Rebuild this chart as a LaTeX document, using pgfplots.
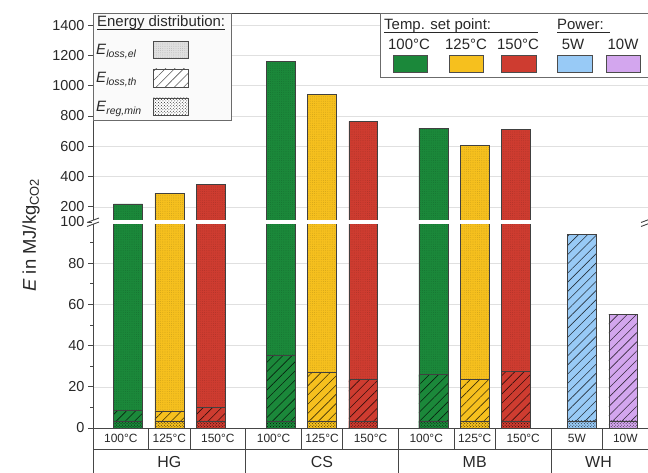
\documentclass[border=0pt]{standalone}
\usepackage{fontspec}
\setmainfont{Liberation Sans}
\usepackage{pgfplots}
\pgfplotsset{compat=1.18}
\usepackage{pgfplotstable}
\usetikzlibrary{patterns,patterns.meta}

\definecolor{cgreen}{RGB}{27,136,58}
\definecolor{cyellow}{RGB}{246,192,30}
\definecolor{cred}{RGB}{206,60,48}
\definecolor{cblue}{RGB}{152,202,246}
\definecolor{cpurple}{RGB}{211,166,238}
\definecolor{frame}{RGB}{70,70,70}
\definecolor{txt}{RGB}{40,40,40}

% x = slot position, total = total energy, th = top of thermal-loss part, reg = E_reg,min
\pgfplotstableread{
x total th reg
0 220 8.5 3.5
3.7 1160 35.5 3.5
7.4 720 26 3.5
}\tgreen
\pgfplotstableread{
x total th reg
1 290 8.3 3.5
4.7 940 27 3.5
8.4 605 23.5 3.5
}\tyellow
\pgfplotstableread{
x total th reg
2 350 10 3.5
5.7 765 23.5 3.5
9.4 710 27.5 3.5
}\tred
\pgfplotstableread{
x total th reg
11 94 94 3.5
}\tblue
\pgfplotstableread{
x total th reg
12 55 55 3.5
}\tpurple

\pgfplotsset{
  myax/.style={
    scale only axis, width=555bp, xmin=-0.85, xmax=12.6,
    axis line style={draw=frame, line width=0.9bp},
    xtick=\empty, ytick pos=left, tick align=outside,
    major tick length=5bp, minor tick length=3bp,
    tick style={draw=frame, line width=0.8bp},
    ymajorgrids, grid style={black!12, line width=0.6bp},
    tick label style={font=\fontsize{14.5}{16}\selectfont, text=txt},
    /pgf/number format/assume math mode=true,
    /pgf/number format/1000 sep={},
  },
  barbase/.style={ybar, bar width=0.7, bar shift=0pt, draw=black!75, line width=0.55bp},
}

\newcommand{\toplayer}[2]{%
  \addplot[barbase, preaction={fill=#2}, pattern={Dots[distance=2.2bp,radius=0.32bp]}, pattern color=#2!72!black] table[x=x,y=total]{#1};
}
\newcommand{\layers}[2]{%
  \toplayer{#1}{#2}
  \addplot[barbase, preaction={fill=#2}, pattern={Lines[angle=45,distance=6.5bp,line width=0.6bp]}, pattern color=#2!25!black] table[x=x,y=th]{#1};
  \addplot[barbase, preaction={fill=#2}, pattern=crosshatch dots, pattern color=#2!15!black] table[x=x,y=reg]{#1};
}

\begin{document}
\begin{tikzpicture}[x=1bp,y=1bp]

% ---------- lower axis ----------
\begin{axis}[myax, at={(93bp,0bp)}, anchor=south west, height=251bp,
  ymin=-21.84, ymax=100,
  ytick={0,20,40,60,80,100}, minor ytick={10,30,50,70,90}]
  \layers{\tgreen}{cgreen}
  \layers{\tyellow}{cyellow}
  \layers{\tred}{cred}
  \layers{\tblue}{cblue}
  \layers{\tpurple}{cpurple}
  % category table
  \draw[frame, line width=0.9bp] (axis cs:-0.85,0) -- (axis cs:12.6,0);
  \draw[frame, line width=0.8bp] (axis cs:-0.85,-10.2) -- (axis cs:12.6,-10.2);
  \draw[frame, line width=0.8bp] (axis cs:2.85,0) -- (axis cs:2.85,-21.84);
  \draw[frame, line width=0.8bp] (axis cs:6.55,0) -- (axis cs:6.55,-21.84);
  \draw[frame, line width=0.8bp] (axis cs:10.25,0) -- (axis cs:10.25,-21.84);
  \draw[frame, line width=0.8bp] (axis cs:0.5,0) -- (axis cs:0.5,-10.2);
  \draw[frame, line width=0.8bp] (axis cs:1.5,0) -- (axis cs:1.5,-10.2);
  \draw[frame, line width=0.8bp] (axis cs:4.2,0) -- (axis cs:4.2,-10.2);
  \draw[frame, line width=0.8bp] (axis cs:5.2,0) -- (axis cs:5.2,-10.2);
  \draw[frame, line width=0.8bp] (axis cs:7.9,0) -- (axis cs:7.9,-10.2);
  \draw[frame, line width=0.8bp] (axis cs:8.9,0) -- (axis cs:8.9,-10.2);
  \draw[frame, line width=0.8bp] (axis cs:11.5,0) -- (axis cs:11.5,-10.2);
  \begin{scope}[every node/.style={font=\fontsize{12}{14}\selectfont, text=txt}]
    \node at (axis cs:-0.175,-5.1) {100°C};
    \node at (axis cs:1,-5.1) {125°C};
    \node at (axis cs:2.175,-5.1) {150°C};
    \node at (axis cs:3.525,-5.1) {100°C};
    \node at (axis cs:4.7,-5.1) {125°C};
    \node at (axis cs:5.875,-5.1) {150°C};
    \node at (axis cs:7.225,-5.1) {100°C};
    \node at (axis cs:8.4,-5.1) {125°C};
    \node at (axis cs:9.575,-5.1) {150°C};
    \node at (axis cs:10.875,-5.1) {5W};
    \node at (axis cs:12.05,-5.1) {10W};
  \end{scope}
  \begin{scope}[every node/.style={font=\fontsize{16}{18}\selectfont, text=txt}]
    \node at (axis cs:1,-16.3) {HG};
    \node at (axis cs:4.7,-16.3) {CS};
    \node at (axis cs:8.4,-16.3) {MB};
    \node at (axis cs:11.4,-16.3) {WH};
  \end{scope}
\end{axis}

% ---------- upper axis ----------
\begin{axis}[myax, at={(93bp,251bp)}, anchor=south west, height=209bp,
  ymin=100, ymax=1480,
  ytick={200,400,...,1400}]
  \toplayer{\tgreen}{cgreen}
  \toplayer{\tyellow}{cyellow}
  \toplayer{\tred}{cred}
\end{axis}

% ---------- axis break ----------
\fill[white] (92,249.3) rectangle (648,252.7);
\draw[frame, line width=0.9bp] (87,246.5) -- (99,251);
\draw[frame, line width=0.9bp] (87,250.5) -- (99,255);
\draw[frame, line width=0.9bp] (641,246.5) -- (653,251);
\draw[frame, line width=0.9bp] (641,250.5) -- (653,255);

% ---------- y label ----------
\node[rotate=90, font=\fontsize{18.5}{20}\selectfont, text=txt] at (31,238) {\textit{E} in MJ/kg\textsubscript{CO2}};

% ---------- legend 1 ----------
\draw[frame!80, fill=black!2, line width=0.8bp] (93.5,353) rectangle (231,459.5);
\node[anchor=base west, font=\fontsize{15}{17}\selectfont, text=txt, inner sep=0] (t1) at (97,446) {Energy distribution:};
\draw[txt, line width=0.7bp] (97,444) -- (t1.base east |- 0,444);
\node[anchor=base west, font=\fontsize{15}{17}\selectfont, text=txt, inner sep=0] at (96,418) {\textit{E}\textsubscript{\textit{loss,el}}};
\node[anchor=base west, font=\fontsize{15}{17}\selectfont, text=txt, inner sep=0] at (96,390) {\textit{E}\textsubscript{\textit{loss,th}}};
\node[anchor=base west, font=\fontsize{15}{17}\selectfont, text=txt, inner sep=0] at (96,361) {\textit{E}\textsubscript{\textit{reg,min}}};
\draw[black!70, line width=0.6bp, preaction={fill=black!12}, pattern={Dots[distance=2.2bp,radius=0.32bp]}, pattern color=black!40] (153,415) rectangle (188,432);
\draw[black!70, line width=0.6bp, preaction={fill=white}, pattern={Lines[angle=45,distance=6.5bp,line width=0.6bp]}, pattern color=black!65] (153,386) rectangle (188,404);
\draw[black!70, line width=0.6bp, preaction={fill=white}, pattern=crosshatch dots, pattern color=black!85] (153,358) rectangle (188,375);

% ---------- legend 2 ----------
\draw[frame!80, fill=white, line width=0.8bp] (380.5,396) rectangle (652,459.5);
\node[anchor=base west, font=\fontsize{15}{17}\selectfont, text=txt, inner sep=0] at (384,443) {Temp. set point:};
\draw[txt, line width=0.7bp] (384,441) -- (538,441);
\node[anchor=base west, font=\fontsize{15}{17}\selectfont, text=txt, inner sep=0] at (557,443) {Power:};
\draw[txt, line width=0.7bp] (557,441) -- (610,441);
\begin{scope}[every node/.style={font=\fontsize{15}{17}\selectfont, text=txt, inner sep=0, anchor=base}]
  \node at (409,423) {100°C};
  \node at (466,423) {125°C};
  \node at (518,423) {150°C};
  \node at (573,423) {5W};
  \node at (623,423) {10W};
\end{scope}
\draw[black!70, line width=0.6bp, fill=cgreen] (393,401) rectangle (427,418);
\draw[black!70, line width=0.6bp, fill=cyellow] (449,401) rectangle (483,418);
\draw[black!70, line width=0.6bp, fill=cred] (501,401) rectangle (536,418);
\draw[black!70, line width=0.6bp, fill=cblue] (557,401) rectangle (592,418);
\draw[black!70, line width=0.6bp, fill=cpurple] (606,401) rectangle (640,418);

\pgfresetboundingbox
\useasboundingbox (0,0) rectangle (648,473);
\end{tikzpicture}
\end{document}
